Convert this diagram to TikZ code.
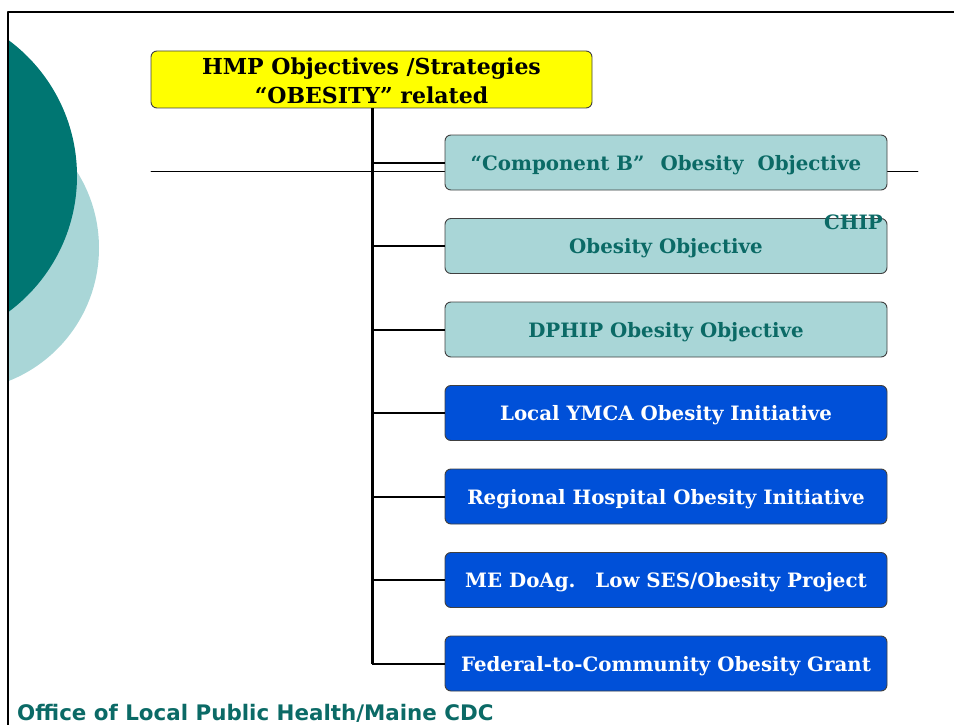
\documentclass[tikz,border=0pt]{standalone}
\usepackage{fontspec}
\setmainfont{DejaVu Serif}
\newfontfamily\footfont{DejaVu Sans}
\usetikzlibrary{positioning}

\definecolor{tealdark}{HTML}{007672}
\definecolor{teallight}{HTML}{A9D6D7}
\definecolor{tealtext}{HTML}{0B6A66}
\definecolor{boxblue}{HTML}{0050D8}
\definecolor{boxyellow}{HTML}{FFFF00}

% text set a little lower than the box centre
\newcommand{\lowtext}[2]{\raisebox{-#1}[\height][\depth]{#2}}

\begin{document}
\begin{tikzpicture}[x=1pt, y=-1pt, line cap=round, line join=round,
    box/.style={rounded corners=6pt, draw=black!75, line width=0.9pt,
        minimum width=442pt, minimum height=55pt, inner sep=0pt,
        font=\bfseries\fontsize{19.8}{22}\selectfont},
    objbox/.style={box, fill=teallight, text=tealtext},
    initbox/.style={box, fill=boxblue, text=white},
    link/.style={line width=2pt, line cap=butt}]

    \useasboundingbox (0,0) rectangle (954,725);

    % Background circles, cut at the frame
    \begin{scope}
        \clip (8,12) rectangle (954,725);
        \fill[teallight] (-44,248) circle (143);
        \fill[tealdark] (-92,176) circle (169);
    \end{scope}

    % Frame
    \draw[line width=1.6pt, line cap=butt] (8,725) -- (8,12) -- (954,12);

    % Rule behind the first box
    \draw[line width=0.8pt] (151,171) -- (918,171);

    % Head box
    \node[box, fill=boxyellow, text=black, minimum width=441pt,
        minimum height=55pt,
        font=\bfseries\fontsize{22}{28.5}\selectfont] (head) at (371.5,79.5)
        {\lowtext{4pt}{\begin{tabular}{@{}c@{}}HMP Objectives /Strategies\\``OBESITY'' related\end{tabular}}};

    % Trunk
    \coordinate (trunk) at (372,663.5);
    \draw[line width=3pt, line cap=butt] (head.south -| trunk) -- (trunk);

    % Branch boxes
    \foreach \i/\y/\st/\txt in {
        1/162.5/objbox/{``Component B''\hspace{16pt}Obesity\hspace{14pt}Objective},
        2/246/objbox/{Obesity Objective},
        3/329.5/objbox/{DPHIP Obesity Objective},
        4/413/initbox/{Local YMCA Obesity Initiative},
        5/496.5/initbox/{Regional Hospital Obesity Initiative},
        6/580/initbox/{ME DoAg.\quad Low SES/Obesity Project},
        7/663.5/initbox/{Federal-to-Community Obesity Grant}} {
        \node[\st] (b\i) at (666,\y) {\lowtext{2.5pt}{\txt}};
        \draw[link] (b\i.west -| trunk) -- (b\i.west);
    }

    % Stray label on the second box
    \node[text=tealtext, font=\bfseries\fontsize{19.8}{22}\selectfont,
        anchor=east, inner sep=0pt] (chip) at (883,222) {CHIP};

    % Footer
    \node[text=tealtext, font=\footfont\bfseries\fontsize{21.4}{24}\selectfont,
        anchor=west, inner sep=0pt] (foot) at (17,713) {Office of Local Public Health/Maine CDC};

\end{tikzpicture}
\end{document}
